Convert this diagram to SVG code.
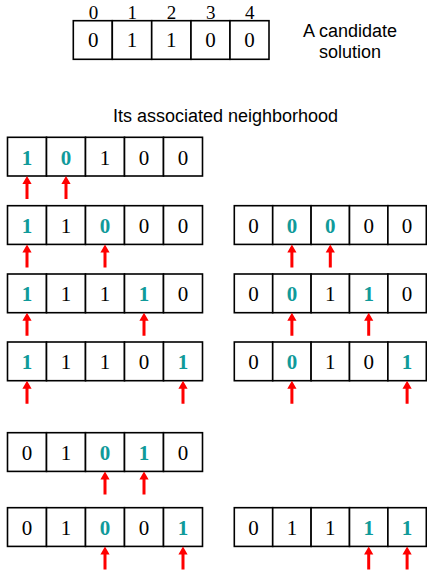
<svg xmlns="http://www.w3.org/2000/svg" xmlns:xlink="http://www.w3.org/1999/xlink" width="427" height="571" viewBox="0 0 427 571">
  <style>
    .cell { fill: #ffffff; stroke: #000000; stroke-width: 1.6; }
    .bit { font-family: "Liberation Serif", "Times New Roman", serif; font-size: 21px; text-anchor: middle; fill: #000000; }
    .flip { font-weight: bold; fill: #109a9a; }
    .idx { font-family: "Liberation Serif", "Times New Roman", serif; font-size: 19px; text-anchor: middle; fill: #000000; }
    .label { font-family: "Liberation Sans", Arial, Helvetica, sans-serif; font-size: 18px; text-anchor: middle; fill: #000000; }
    .ptr { fill: #ff0000; }
  </style>
  <defs>
    <!-- upward red pointer, tip at the origin -->
    <path id="arrow" class="ptr" d="M0,0 L4.6,8 L1.5,8 L1.5,23 L-1.5,23 L-1.5,8 L-4.6,8 Z"/>
    <!-- five-cell frame, left column -->
    <g id="frameL">
      <rect class="cell" x="0" y="0" width="39" height="38.7"/>
      <rect class="cell" x="39" y="0" width="39" height="38.7"/>
      <rect class="cell" x="78" y="0" width="39" height="38.7"/>
      <rect class="cell" x="117" y="0" width="39" height="38.7"/>
      <rect class="cell" x="156" y="0" width="39" height="38.7"/>
    </g>
    <!-- five-cell frame, right column -->
    <g id="frameR">
      <rect class="cell" x="0" y="0" width="38.4" height="38.7"/>
      <rect class="cell" x="38.4" y="0" width="38.4" height="38.7"/>
      <rect class="cell" x="76.8" y="0" width="38.4" height="38.7"/>
      <rect class="cell" x="115.2" y="0" width="38.4" height="38.7"/>
      <rect class="cell" x="153.6" y="0" width="38.4" height="38.7"/>
    </g>
  </defs>

  <rect x="0" y="0" width="427" height="571" fill="#ffffff"/>

  <!-- candidate solution -->
  <g id="candidate">
    <text class="idx" x="93.5" y="19.3">0</text>
    <text class="idx" x="132.3" y="19.3">1</text>
    <text class="idx" x="171.5" y="19.3">2</text>
    <text class="idx" x="210.7" y="19.3">3</text>
    <text class="idx" x="249.7" y="19.3">4</text>
    <rect class="cell" x="73.3" y="20.7" width="39" height="38.6"/>
    <rect class="cell" x="112.3" y="20.7" width="39.4" height="38.6"/>
    <rect class="cell" x="151.7" y="20.7" width="39.3" height="38.6"/>
    <rect class="cell" x="191" y="20.7" width="39" height="38.6"/>
    <rect class="cell" x="230" y="20.7" width="39" height="38.6"/>
    <text class="bit" x="93.2" y="47">0</text>
    <text class="bit" x="132" y="47">1</text>
    <text class="bit" x="171.3" y="47">1</text>
    <text class="bit" x="210.5" y="47">0</text>
    <text class="bit" x="249.5" y="47">0</text>
  </g>

  <g id="caption-candidate">
    <text class="label" x="350" y="36.5">A candidate</text>
    <text class="label" x="350" y="58">solution</text>
  </g>

  <g id="caption-neighborhood">
    <text class="label" x="225.5" y="121.5">Its associated neighborhood</text>
  </g>

  <!-- neighbours, left column -->
  <g id="n1" transform="translate(7.5,137.3)">
    <use xlink:href="#frameL"/>
    <text class="bit flip" x="19.5" y="27.3">1</text>
    <text class="bit flip" x="58.5" y="27.3">0</text>
    <text class="bit" x="97.5" y="27.3">1</text>
    <text class="bit" x="136.5" y="27.3">0</text>
    <text class="bit" x="175.5" y="27.3">0</text>
  </g>
  <g id="n2" transform="translate(7.5,205.7)">
    <use xlink:href="#frameL"/>
    <text class="bit flip" x="19.5" y="27.3">1</text>
    <text class="bit" x="58.5" y="27.3">1</text>
    <text class="bit flip" x="97.5" y="27.3">0</text>
    <text class="bit" x="136.5" y="27.3">0</text>
    <text class="bit" x="175.5" y="27.3">0</text>
  </g>
  <g id="n3" transform="translate(7.5,274)">
    <use xlink:href="#frameL"/>
    <text class="bit flip" x="19.5" y="27.3">1</text>
    <text class="bit" x="58.5" y="27.3">1</text>
    <text class="bit" x="97.5" y="27.3">1</text>
    <text class="bit flip" x="136.5" y="27.3">1</text>
    <text class="bit" x="175.5" y="27.3">0</text>
  </g>
  <g id="n4" transform="translate(7.5,342)">
    <use xlink:href="#frameL"/>
    <text class="bit flip" x="19.5" y="27.3">1</text>
    <text class="bit" x="58.5" y="27.3">1</text>
    <text class="bit" x="97.5" y="27.3">1</text>
    <text class="bit" x="136.5" y="27.3">0</text>
    <text class="bit flip" x="175.5" y="27.3">1</text>
  </g>
  <g id="n5" transform="translate(7.5,432.7)">
    <use xlink:href="#frameL"/>
    <text class="bit" x="19.5" y="27.3">0</text>
    <text class="bit" x="58.5" y="27.3">1</text>
    <text class="bit flip" x="97.5" y="27.3">0</text>
    <text class="bit flip" x="136.5" y="27.3">1</text>
    <text class="bit" x="175.5" y="27.3">0</text>
  </g>
  <g id="n6" transform="translate(7.5,507.7)">
    <use xlink:href="#frameL"/>
    <text class="bit" x="19.5" y="27.3">0</text>
    <text class="bit" x="58.5" y="27.3">1</text>
    <text class="bit flip" x="97.5" y="27.3">0</text>
    <text class="bit" x="136.5" y="27.3">0</text>
    <text class="bit flip" x="175.5" y="27.3">1</text>
  </g>

  <!-- neighbours, right column -->
  <g id="n7" transform="translate(234.3,205.7)">
    <use xlink:href="#frameR"/>
    <text class="bit" x="19.2" y="27.3">0</text>
    <text class="bit flip" x="57.6" y="27.3">0</text>
    <text class="bit flip" x="96" y="27.3">0</text>
    <text class="bit" x="134.4" y="27.3">0</text>
    <text class="bit" x="172.8" y="27.3">0</text>
  </g>
  <g id="n8" transform="translate(234.3,274)">
    <use xlink:href="#frameR"/>
    <text class="bit" x="19.2" y="27.3">0</text>
    <text class="bit flip" x="57.6" y="27.3">0</text>
    <text class="bit" x="96" y="27.3">1</text>
    <text class="bit flip" x="134.4" y="27.3">1</text>
    <text class="bit" x="172.8" y="27.3">0</text>
  </g>
  <g id="n9" transform="translate(234.3,342)">
    <use xlink:href="#frameR"/>
    <text class="bit" x="19.2" y="27.3">0</text>
    <text class="bit flip" x="57.6" y="27.3">0</text>
    <text class="bit" x="96" y="27.3">1</text>
    <text class="bit" x="134.4" y="27.3">0</text>
    <text class="bit flip" x="172.8" y="27.3">1</text>
  </g>
  <g id="n10" transform="translate(234.3,507.7)">
    <use xlink:href="#frameR"/>
    <text class="bit" x="19.2" y="27.3">0</text>
    <text class="bit" x="57.6" y="27.3">1</text>
    <text class="bit" x="96" y="27.3">1</text>
    <text class="bit flip" x="134.4" y="27.3">1</text>
    <text class="bit flip" x="172.8" y="27.3">1</text>
  </g>

  <!-- pointers to the flipped bits -->
  <g id="pointers">
    <use xlink:href="#arrow" x="27" y="176"/>
    <use xlink:href="#arrow" x="66" y="176"/>

    <use xlink:href="#arrow" x="27" y="244.4"/>
    <use xlink:href="#arrow" x="105" y="244.4"/>
    <use xlink:href="#arrow" x="291.9" y="244.4"/>
    <use xlink:href="#arrow" x="330.3" y="244.4"/>

    <use xlink:href="#arrow" x="27" y="312.7"/>
    <use xlink:href="#arrow" x="144" y="312.7"/>
    <use xlink:href="#arrow" x="291.9" y="312.7"/>
    <use xlink:href="#arrow" x="368.7" y="312.7"/>

    <use xlink:href="#arrow" x="27" y="380.7"/>
    <use xlink:href="#arrow" x="183" y="380.7"/>
    <use xlink:href="#arrow" x="291.9" y="380.7"/>
    <use xlink:href="#arrow" x="407.1" y="380.7"/>

    <use xlink:href="#arrow" x="105" y="471.4"/>
    <use xlink:href="#arrow" x="144" y="471.4"/>

    <use xlink:href="#arrow" x="105" y="546.4"/>
    <use xlink:href="#arrow" x="183" y="546.4"/>
    <use xlink:href="#arrow" x="368.7" y="546.4"/>
    <use xlink:href="#arrow" x="407.1" y="546.4"/>
  </g>
</svg>
